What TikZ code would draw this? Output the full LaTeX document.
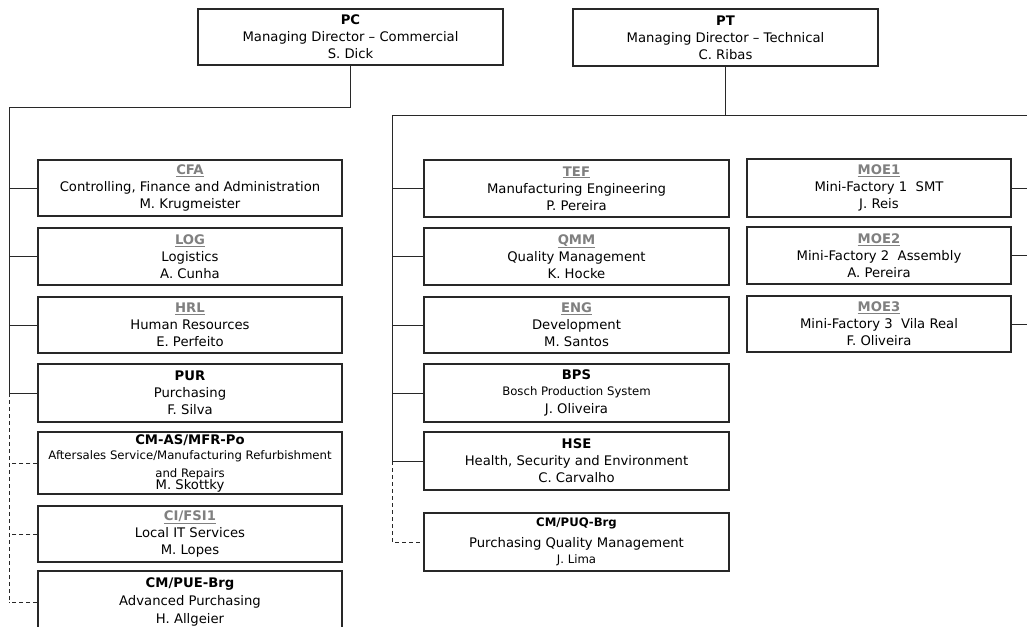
\documentclass[tikz,border=0pt]{standalone}
\usepackage{fontspec}
\setmainfont{DejaVu Sans}
\usepackage{xcolor}
\definecolor{codegray}{RGB}{128,128,128}
\definecolor{linegray}{RGB}{40,40,40}
\newcommand\deptcode[1]{\textcolor{codegray}{\underline{\textbf{#1}}}}
\newcommand\smalltxt{\fontsize{11.7}{14}\selectfont}
\tikzset{
  unit/.style={draw=linegray, line width=1.1pt, align=center, inner sep=0pt,
    font=\fontsize{13.2}{17}\selectfont},
  heavy/.style={line width=1.6pt},
  colL/.style={unit, minimum width=304pt},
  colM/.style={unit, minimum width=305pt},
  colR/.style={unit, minimum width=264pt},
  link/.style={draw=linegray, line width=0.8pt},
  dlink/.style={link, dash pattern=on 4pt off 3pt}
}
\begin{document}
\begin{tikzpicture}[x=1pt, y=-1pt]
\clip (0,0) rectangle (1027,626);
\fill[white] (0,0) rectangle (1027,626);

% managing directors
\node[unit, minimum width=305pt, minimum height=56pt] (pc) at (350.5,37)
  {\textbf{PC}\\Managing Director -- Commercial\\S. Dick};
\node[unit, minimum width=305pt, minimum height=57pt] (pt) at (725.5,37.5)
  {\textbf{PT}\\Managing Director -- Technical\\C. Ribas};

% commercial departments
\node[colL, minimum height=56pt] (cfa) at (190,188)
  {\deptcode{CFA}\\Controlling, Finance and Administration\\M. Krugmeister};
\node[colL, minimum height=57pt] (log) at (190,256.5)
  {\deptcode{LOG}\\Logistics\\A. Cunha};
\node[colL, minimum height=56pt] (hrl) at (190,325)
  {\deptcode{HRL}\\Human Resources\\E. Perfeito};
\node[colL, heavy, minimum height=58pt] (pur) at (190,393)
  {\textbf{PUR}\\Purchasing\\F. Silva};
\node[colL, minimum height=62pt] (cmas) at (190,463)
  {\textbf{CM-AS/MFR-Po}\\[-2pt]
   {\smalltxt Aftersales Service/Manufacturing Refurbishment}\\[1pt]
   {\smalltxt and Repairs}\\[-5pt]
   M. Skottky};
\node[colL, minimum height=56pt] (cifsi) at (190,534)
  {\deptcode{CI/FSI1}\\Local IT Services\\M. Lopes};
\node[colL, heavy, minimum height=62pt] (cmpue) at (190,602)
  {\textbf{CM/PUE-Brg}\\[1pt]Advanced Purchasing\\[1pt]H. Allgeier};

% technical departments
\node[colM, minimum height=57pt] (tef) at (576.5,188.5)
  {\deptcode{TEF}\\Manufacturing Engineering\\P. Pereira};
\node[colM, minimum height=57pt] (qmm) at (576.5,256.5)
  {\deptcode{QMM}\\Quality Management\\K. Hocke};
\node[colM, minimum height=56pt] (eng) at (576.5,325)
  {\deptcode{ENG}\\Development\\M. Santos};
\node[colM, minimum height=58pt] (bps) at (576.5,393)
  {\textbf{BPS}\\[-1pt]{\smalltxt Bosch Production System}\\[1pt]J. Oliveira};
\node[colM, minimum height=58pt] (hse) at (576.5,461)
  {\textbf{HSE}\\Health, Security and Environment\\C. Carvalho};
\node[colM, minimum height=58pt] (cmpuq) at (576.5,542)
  {{\smalltxt\bfseries CM/PUQ-Brg}\\[4pt]Purchasing Quality Management\\[-1pt]{\smalltxt J. Lima}};

% mini-factories
\node[colR, minimum height=58pt] (moe1) at (879,188)
  {\deptcode{MOE1}\\Mini-Factory 1~~SMT\\J. Reis};
\node[colR, minimum height=57pt] (moe2) at (879,255.5)
  {\deptcode{MOE2}\\Mini-Factory 2~~Assembly\\A. Pereira};
\node[colR, minimum height=56pt] (moe3) at (879,324)
  {\deptcode{MOE3}\\Mini-Factory 3~~Vila Real\\F. Oliveira};

% bus lines
\coordinate (lbus) at (9,107);
\coordinate (mbus) at (392,115);
\coordinate (rbus) at (1040,115);

% commercial branch
\draw[link] (pc.south) |- (lbus) -- (lbus |- pur.west);
\foreach \d in {cfa,log,hrl,pur}
  \draw[link] (\d.west) -- (\d.west -| lbus);
\draw[dlink] (lbus |- pur.west) -- (lbus |- cmpue.west);
\foreach \d in {cmas,cifsi,cmpue}
  \draw[dlink] (\d.west) -- (\d.west -| lbus);

% technical branch
\draw[link] (pt.south) -- (pt.south |- mbus);
\draw[link] (mbus) -- (rbus) -- (rbus |- moe3.east);
\draw[link] (mbus) -- (mbus |- hse.west);
\foreach \d in {tef,qmm,eng,bps,hse}
  \draw[link] (\d.west) -- (\d.west -| mbus);
\draw[dlink] (mbus |- hse.west) -- (mbus |- cmpuq.west) -- (cmpuq.west);
\foreach \d in {moe1,moe2,moe3}
  \draw[link] (\d.east) -- (\d.east -| rbus);
\end{tikzpicture}
\end{document}
